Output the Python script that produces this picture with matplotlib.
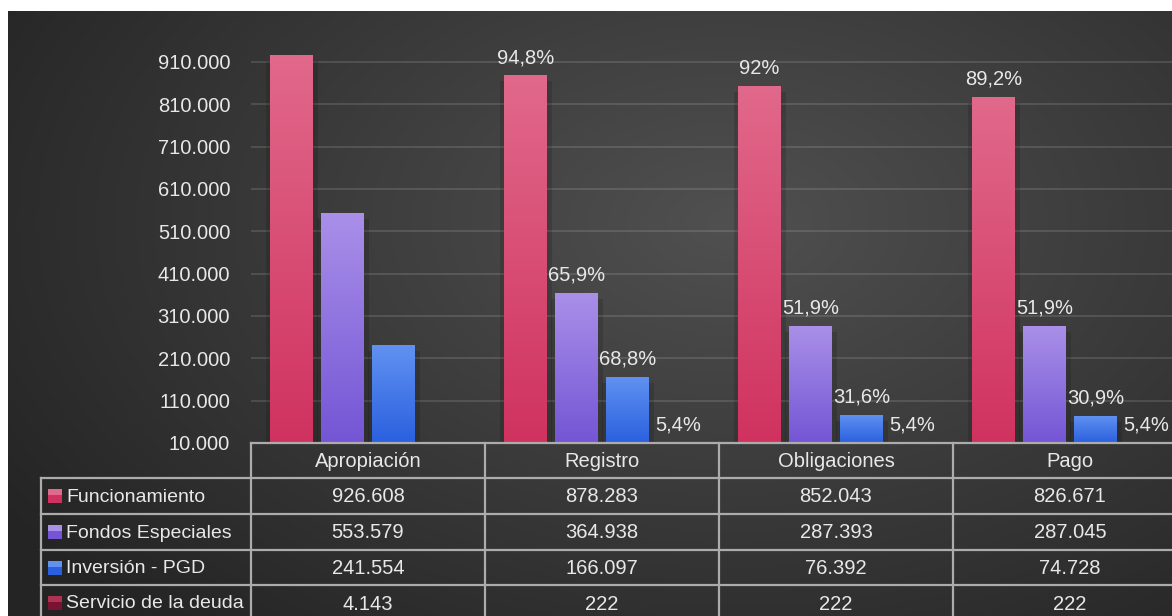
import numpy as np
import matplotlib
matplotlib.use('Agg')
import matplotlib.pyplot as plt
from matplotlib.colors import LinearSegmentedColormap
from matplotlib.patches import Rectangle
from matplotlib.ticker import FuncFormatter

# Data
categories = ['Apropiación', 'Registro', 'Obligaciones', 'Pago']
series_names = ['Funcionamiento', 'Fondos Especiales', 'Inversión - PGD', 'Servicio de la deuda']
funcionamiento = [926608, 878283, 852043, 826671]
fondos_especiales = [553579, 364938, 287393, 287045]
inversion_pgd = [241554, 166097, 76392, 74728]
servicio_deuda = [4143, 222, 222, 222]
pct_funcionamiento = ['', '94,8%', '92%', '89,2%']
pct_fondos = ['', '65,9%', '51,9%', '51,9%']
pct_inversion = ['', '68,8%', '31,6%', '30,9%']
pct_servicio = ['', '5,4%', '5,4%', '5,4%']
y_ticks = [10000, 110000, 210000, 310000, 410000, 510000, 610000, 710000, 810000, 910000]

series = [funcionamiento, fondos_especiales, inversion_pgd, servicio_deuda]
labels = [pct_funcionamiento, pct_fondos, pct_inversion, pct_servicio]
# (top colour, bottom colour) of each bar gradient
colors = [('#e1698b', '#d0325f'), ('#aa90e9', '#7455d5'),
          ('#6192f1', '#2a60df'), ('#b03252', '#7a1232')]

plt.rcParams['font.family'] = ['Liberation Sans', 'DejaVu Sans']
TXT = '#e8e8e8'
FS = 14.5

W, H = 1172, 616
fig = plt.figure(figsize=(W / 100, H / 100), dpi=100)
fig.patch.set_facecolor('white')

# dark radial background
bg = fig.add_axes([8 / W, 0, (W - 8) / W, (H - 11) / H])
gx, gy = np.meshgrid(np.linspace(0, 1, 400), np.linspace(0, 1, 220))
d = np.sqrt(((gx - 0.62) / 0.75) ** 2 + ((gy - 0.35) / 0.9) ** 2)
shade = np.clip(1 - d, 0, 1)
bg_cmap = LinearSegmentedColormap.from_list('bg', ['#242424', '#505050'])
bg.imshow(shade, cmap=bg_cmap, aspect='auto', extent=[0, 1, 1, 0])
bg.axis('off')

# main chart
ax = fig.add_axes([251 / W, (H - 443) / H, 936 / W, 398 / H])
ax.patch.set_visible(False)
base = 10000
ymax = 950000
x = np.arange(len(categories))
width = 0.18
step = 0.218
px_x = 4 / 936
px_y = (ymax - base) / 398

for i, (vals, labs, (ctop, cbot)) in enumerate(zip(series, labels, colors)):
    xpos = x + (i - 1.5) * step
    heights = [v - base for v in vals]
    bars = ax.bar(xpos, heights, width, bottom=base, color=cbot, zorder=3)
    cmap = LinearSegmentedColormap.from_list('g%d' % i, [ctop, cbot])
    grad = np.linspace(0, 1, 256).reshape(-1, 1)
    for b, v in zip(bars, vals):
        if v <= base:
            continue
        x0 = b.get_x()
        ax.add_patch(Rectangle((x0 - 4 * px_x, base), width + 9 * px_x, v - base - 6 * px_y,
                               color='black', alpha=0.13, lw=0, zorder=2))
        im = ax.imshow(grad, cmap=cmap, aspect='auto', zorder=4,
                       extent=[x0, x0 + width, base, v])
        im.set_clip_path(b)
    for xp, v, lab in zip(xpos, vals, labs):
        if lab:
            ax.annotate(lab, (xp, max(v, base)), xytext=(0, 6), textcoords='offset points',
                        ha='center', va='bottom', color=TXT, fontsize=FS, zorder=5)

ax.set_xlim(-0.5, len(categories) - 0.5)
ax.set_ylim(base, ymax)
ax.set_yticks(y_ticks)
ax.yaxis.set_major_formatter(FuncFormatter(lambda v, p: f"{int(v):,}".replace(',', '.')))
ax.tick_params(axis='y', length=0, pad=15, labelsize=FS, labelcolor=TXT)
ax.set_xticks([])
ax.yaxis.grid(True, color='white', alpha=0.12, lw=1.5)
ax.set_axisbelow(True)
for s in ax.spines.values():
    s.set_visible(False)

# data table underneath
tab = fig.add_axes([0, 0, 1, 1])
tab.set_xlim(0, W)
tab.set_ylim(H, 0)
tab.axis('off')
LC = '#acacac'
col_x = [251 + 234 * i for i in range(len(categories) + 1)]
row_y = [443, 478, 514, 550, 585, 621]
left = 41
tab.plot([col_x[0], col_x[-1]], [row_y[0]] * 2, color=LC, lw=1.6)
for yy in row_y[1:]:
    tab.plot([left, col_x[-1]], [yy, yy], color=LC, lw=1.6)
for xx in col_x:
    tab.plot([xx, xx], [row_y[0], row_y[-1]], color=LC, lw=1.6)
tab.plot([left, left], [row_y[1], row_y[-1]], color=LC, lw=1.6)

for j, cat in enumerate(categories):
    tab.text((col_x[j] + col_x[j + 1]) / 2, (row_y[0] + row_y[1]) / 2 + 1, cat,
             ha='center', va='center', color=TXT, fontsize=FS)
for r, (name, vals, (ctop, cbot)) in enumerate(zip(series_names, series, colors)):
    yc = (row_y[r + 1] + row_y[r + 2]) / 2
    tab.add_patch(Rectangle((48, yc - 7), 14, 14, color=cbot, lw=0))
    tab.add_patch(Rectangle((48, yc - 7), 14, 6, color=ctop, lw=0))
    tab.text(66, yc + 1, name, ha='left', va='center', color=TXT, fontsize=14)
    for j, v in enumerate(vals):
        tab.text((col_x[j] + col_x[j + 1]) / 2, yc + 1, f"{v:,}".replace(',', '.'),
                 ha='center', va='center', color=TXT, fontsize=FS)

fig.savefig('out.png', dpi=100, facecolor=fig.get_facecolor())
